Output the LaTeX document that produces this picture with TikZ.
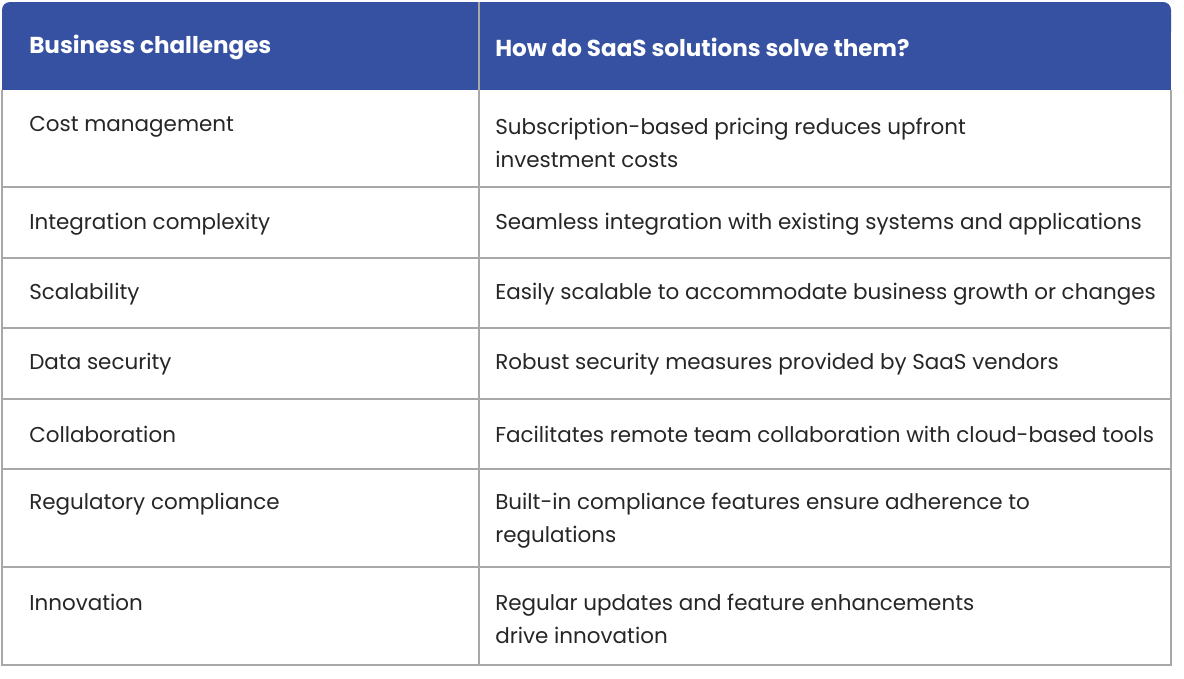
\documentclass[tikz,border=0pt]{standalone}
\usepackage{fontspec}
\setmainfont{Poppins}
\definecolor{headblue}{HTML}{3651A1}
\definecolor{gridgray}{HTML}{A8A8A8}
\tikzset{cell/.style={anchor=west,align=left,font=\fontsize{16.1}{24.75}\selectfont,inner sep=0pt,text=black!85},
  head/.style={cell,text=white,font=\fontsize{17.3}{24.75}\selectfont\bfseries}}
\begin{document}
\begin{tikzpicture}[x=0.75pt,y=-0.75pt]
\useasboundingbox (0,0) rectangle (1184,678);
% header
\fill[headblue,rounded corners=6pt] (2,2) rectangle (1171,40);
\fill[headblue] (2,30) rectangle (1171,90);
\node[head] (h1) at (29,47) {Business challenges};
\node[head] (h2) at (495,47) {How do SaaS solutions solve them?};
% grid
\draw[gridgray,line width=0.8pt] (2,90) -- (2,665) -- (1171,665) -- (1171,90);
\draw[gridgray,line width=0.8pt] (479,2) -- (479,665);
\foreach \y in {187,258,328,399,469,567}
  \draw[gridgray,line width=0.8pt] (2,\y) -- (1171,\y);
% rows
\node[cell] (c1) at (29,127) {Cost management};
\node[cell] (s1) at (495,143) {Subscription-based pricing reduces upfront\\investment costs};
\node[cell] (c2) at (29,224) {Integration complexity};
\node[cell] (s2) at (495,224) {Seamless integration with existing systems and applications};
\node[cell] (c3) at (29,294) {Scalability};
\node[cell] (s3) at (495,294) {Easily scalable to accommodate business growth or changes};
\node[cell] (c4) at (29,364) {Data security};
\node[cell] (s4) at (495,364) {Robust security measures provided by SaaS vendors};
\node[cell] (c5) at (29,434) {Collaboration};
\node[cell] (s5) at (495,434) {Facilitates remote team collaboration with cloud-based tools};
\node[cell] (c6) at (29,504) {Regulatory compliance};
\node[cell] (s6) at (495,521) {Built-in compliance features ensure adherence to\\regulations};
\node[cell] (c7) at (29,602) {Innovation};
\node[cell] (s7) at (495,619) {Regular updates and feature enhancements\\drive innovation};
\end{tikzpicture}
\end{document}
